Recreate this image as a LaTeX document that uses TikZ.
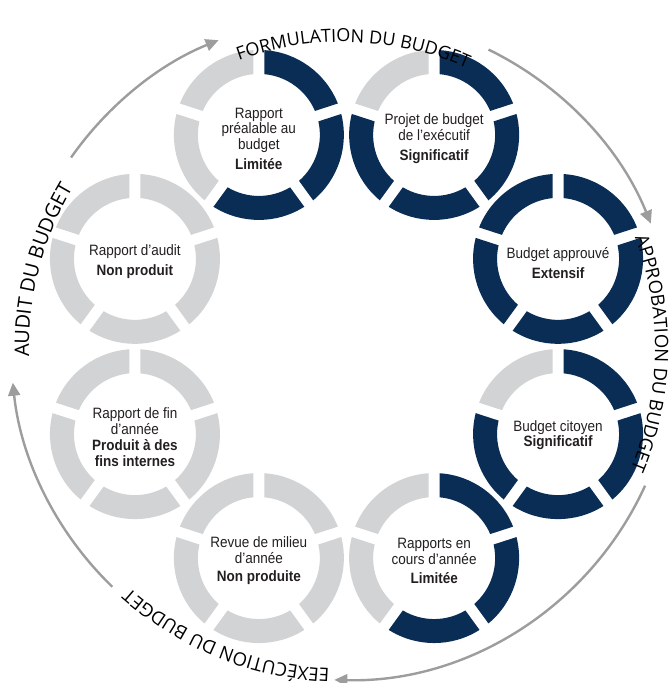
\documentclass[tikz,border=0pt]{standalone}
\usepackage{fontspec}
\usetikzlibrary{calc,arrows.meta,decorations.text}
\newfontfamily\ringfont{Liberation Sans}[FakeStretch=0.9]
\newfontfamily\headfont{Open Sans}
\definecolor{navy}{HTML}{0A2D56}
\definecolor{lgray}{HTML}{D1D3D4}
\definecolor{agray}{HTML}{9D9D9D}
\definecolor{txt}{HTML}{231F20}
\def\rO{85}\def\rI{61}
\pgfmathsetmacro\dO{asin(5.5/85)}
\pgfmathsetmacro\dI{asin(5.5/61)}
\newcommand\ringseg[3]{%
  \pgfmathsetmacro\ga{162-72*#2}\pgfmathsetmacro\gb{90-72*#2}%
  \pgfmathsetmacro\aa{\ga-\dO}\pgfmathsetmacro\ab{\gb+\dO}%
  \pgfmathsetmacro\ac{\gb+\dI}\pgfmathsetmacro\ad{\ga-\dI}%
  \fill[#3] ($(#1)+(\aa:\rO pt)$) arc[start angle=\aa, end angle=\ab, radius=\rO pt]
    -- ($(#1)+(\ac:\rI pt)$) arc[start angle=\ac, end angle=\ad, radius=\rI pt] -- cycle;}
\newcommand\fivering[6]{%
  \ringseg{#1}{1}{#2}\ringseg{#1}{2}{#3}\ringseg{#1}{3}{#4}\ringseg{#1}{4}{#5}\ringseg{#1}{5}{#6}}
\tikzset{
  lbl/.style={align=center, text=txt, font=\ringfont\fontsize{15}{15.5}\selectfont, inner sep=0pt},
  arr/.style={draw=agray, line width=2.4pt, -{Triangle[length=13pt,width=12pt]}},
  headtxt/.style={decorate, decoration={text along path, text align=center, text={#1}}},
}
\newcommand\hf[1]{\headfont\fontsize{#1}{#1}\selectfont\color{black}}
\begin{document}
\begin{tikzpicture}[x=1pt,y=1pt]
\useasboundingbox (0,0) rectangle (670,683);
\coordinate (O) at (346.5pt,336.5pt);
\coordinate (C) at (343pt,335pt);
\foreach \i/\a in {1/112.5,2/67.5,3/22.5,4/-22.5,5/-67.5,6/-112.5,7/-157.5,8/157.5}
  \coordinate (R\i) at ($(O)+(\a:229pt)$);
% rings
\fivering{R1}{navy}{navy}{navy}{lgray}{lgray}
\fivering{R2}{navy}{navy}{navy}{navy}{lgray}
\fivering{R3}{navy}{navy}{navy}{navy}{navy}
\fivering{R4}{navy}{navy}{navy}{navy}{lgray}
\fivering{R5}{navy}{navy}{navy}{lgray}{lgray}
\fivering{R6}{lgray}{lgray}{lgray}{lgray}{lgray}
\fivering{R7}{lgray}{lgray}{lgray}{lgray}{lgray}
\fivering{R8}{lgray}{lgray}{lgray}{lgray}{lgray}
% labels
\node[lbl] (t1) at ($(R1)+(0,-4)$) {Rapport\\préalable au\\budget\\[5pt]\textbf{Limitée}};
\node[lbl] (t2) at ($(R2)+(0,-4)$) {Projet de budget\\de l’exécutif\\[5pt]\textbf{Significatif}};
\node[lbl] (t3) at ($(R3)+(0,-4)$) {Budget approuvé\\[5pt]\textbf{Extensif}};
\node[lbl] (t4) at ($(R4)+(0,-1)$) {Budget citoyen\\\textbf{Significatif}};
\node[lbl] (t5) at ($(R5)+(0,-3)$) {Rapports en\\cours d’année\\[4pt]\textbf{Limitée}};
\node[lbl] (t6) at ($(R6)+(0,-3)$) {Revue de milieu\\d’année\\[3pt]\textbf{Non produite}};
\node[lbl] (t7) at ($(R7)+(0,-3)$) {Rapport de fin\\d’année\\[1pt]\textbf{Produit à des}\\\textbf{fins internes}};
\node[lbl] (t8) at ($(R8)+(0,-3)$) {Rapport d’audit\\[5pt]\textbf{Non produit}};
% outer arrows
\draw[arr] ($(C)+(145:332pt)$) arc[start angle=145, end angle=112, radius=332pt];
\draw[arr] ($(C)+(64:332pt)$) arc[start angle=64, end angle=22, radius=332pt];
\draw[arr] ($(C)+(-24.5:332pt)$) arc[start angle=-24.5, end angle=-91.5, radius=332pt];
\draw[arr] ($(C)+(-134:332pt)$) arc[start angle=-134, end angle=-174, radius=332pt];
% curved headings
\path[headtxt={|\hf{18}|FORMULATION DU BUDGET}] ($(C)+(113:306pt)$) arc[start angle=113, end angle=63, radius=306pt];
\path[headtxt={|\hf{18.5}|APPROBATION DU BUDGET}] ($(C)+(24:312pt)$) arc[start angle=24, end angle=-26, radius=312pt];
\path[headtxt={|\hf{18.5}|EEXÉCUTION DU BUDGET}] ($(C)+(-89:321pt)$) arc[start angle=-89, end angle=-135, radius=321pt];
\path[headtxt={|\hf{20}|AUDIT DU BUDGET}] ($(C)+(188:314pt)$) arc[start angle=188, end angle=143, radius=314pt];
\end{tikzpicture}
\end{document}
